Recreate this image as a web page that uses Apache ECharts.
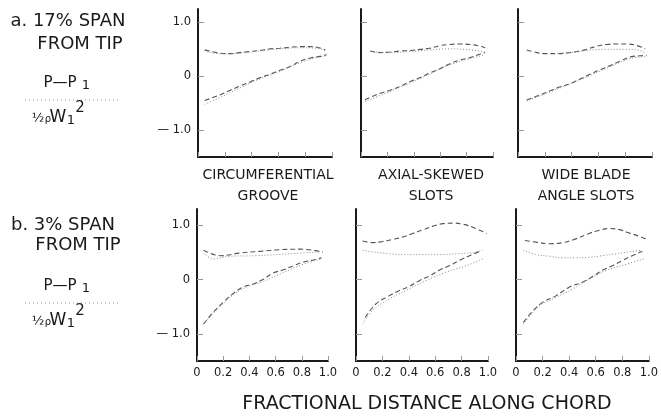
<!DOCTYPE html>
<html>
<head>
<meta charset="utf-8">
<script src="https://cdn.jsdelivr.net/npm/echarts@6.0.0/dist/echarts.min.js"></script>
<style>html,body{margin:0;padding:0;background:#fff;}#c{width:661px;height:416px;}</style>
</head>
<body>
<div id="c"></div>
<script>
// ---- data ----
const xTickValues = [0, 0.2, 0.4, 0.6, 0.8, 1.0];
const xTickLabels = ['0', '0.2', '0.4', '0.6', '0.8', '1.0'];
const yTickValues = [-1, 0, 1];
const yTickLabels = ['\u2014 1.0', '0', '1.0'];
const panelTitles = ['CIRCUMFERENTIAL\nGROOVE', 'AXIAL-SKEWED\nSLOTS', 'WIDE BLADE\nANGLE SLOTS'];
const rowTitlesA = ['a. 17% SPAN', 'FROM TIP'];
const rowTitlesB = ['b. 3% SPAN', 'FROM TIP'];
const xAxisTitle = 'FRACTIONAL DISTANCE ALONG CHORD';

// a. 17% span
const aCircUpperA = [[0.05,0.49],[0.16,0.43],[0.24,0.42],[0.31,0.44],[0.39,0.46],[0.46,0.48],[0.54,0.51],[0.61,0.52],[0.69,0.54],[0.76,0.55],[0.84,0.55],[0.89,0.54],[0.95,0.49]];
const aCircUpperB = [[0.05,0.47],[0.16,0.42],[0.31,0.43],[0.46,0.47],[0.61,0.51],[0.76,0.53],[0.89,0.52],[0.95,0.48]];
const aCircLowerA = [[0.05,-0.45],[0.16,-0.35],[0.24,-0.26],[0.31,-0.185],[0.39,-0.105],[0.46,-0.03],[0.54,0.04],[0.61,0.11],[0.69,0.185],[0.76,0.28],[0.84,0.34],[0.91,0.37],[0.96,0.40]];
const aCircLowerB = [[0.05,-0.52],[0.16,-0.40],[0.31,-0.22],[0.46,-0.05],[0.61,0.09],[0.76,0.25],[0.91,0.36],[0.96,0.38]];

const aAxialUpperA = [[0.07,0.47],[0.14,0.44],[0.22,0.45],[0.30,0.47],[0.37,0.48],[0.45,0.50],[0.52,0.52],[0.60,0.57],[0.67,0.59],[0.75,0.60],[0.83,0.59],[0.90,0.56],[0.94,0.53]];
const aAxialUpperB = [[0.07,0.46],[0.22,0.44],[0.37,0.46],[0.52,0.49],[0.67,0.51],[0.83,0.49],[0.94,0.45]];
const aAxialLowerA = [[0.03,-0.44],[0.14,-0.32],[0.22,-0.26],[0.30,-0.185],[0.37,-0.10],[0.45,-0.025],[0.52,0.06],[0.60,0.14],[0.67,0.23],[0.75,0.30],[0.83,0.35],[0.90,0.41],[0.94,0.44]];
const aAxialLowerB = [[0.03,-0.47],[0.22,-0.28],[0.45,-0.04],[0.67,0.21],[0.83,0.33],[0.94,0.40]];

const aWideUpperA = [[0.065,0.49],[0.14,0.44],[0.21,0.42],[0.29,0.42],[0.36,0.43],[0.44,0.46],[0.51,0.50],[0.59,0.56],[0.66,0.59],[0.74,0.60],[0.81,0.60],[0.89,0.57],[0.95,0.51]];
const aWideUpperB = [[0.29,0.43],[0.44,0.45],[0.51,0.48],[0.66,0.50],[0.81,0.50],[0.89,0.49],[0.95,0.44]];
const aWideLowerA = [[0.065,-0.44],[0.16,-0.35],[0.24,-0.27],[0.31,-0.20],[0.39,-0.135],[0.46,-0.055],[0.54,0.04],[0.61,0.12],[0.69,0.20],[0.76,0.28],[0.84,0.36],[0.91,0.38],[0.96,0.39]];
const aWideLowerB = [[0.065,-0.46],[0.24,-0.29],[0.46,-0.07],[0.69,0.18],[0.84,0.33],[0.96,0.37]];

// b. 3% span
const bCircUpperA = [[0.05,0.54],[0.18,0.44],[0.33,0.49],[0.48,0.52],[0.63,0.55],[0.79,0.56],[0.96,0.51]];
const bCircUpperB = [[0.05,0.49],[0.125,0.38],[0.25,0.43],[0.45,0.44],[0.71,0.475],[0.94,0.51]];
const bCircLowerA = [[0.05,-0.82],[0.125,-0.60],[0.20,-0.42],[0.28,-0.25],[0.35,-0.14],[0.43,-0.08],[0.51,0.01],[0.58,0.12],[0.66,0.18],[0.74,0.26],[0.81,0.32],[0.89,0.36],[0.95,0.40]];
const bCircLowerB = [[0.05,-0.82],[0.20,-0.44],[0.35,-0.17],[0.51,-0.03],[0.66,0.13],[0.81,0.28],[0.95,0.38]];

const bAxialUpperA = [[0.05,0.71],[0.125,0.68],[0.20,0.70],[0.28,0.74],[0.35,0.78],[0.43,0.85],[0.51,0.92],[0.58,0.98],[0.66,1.03],[0.74,1.04],[0.81,1.02],[0.89,0.96],[0.99,0.85]];
const bAxialUpperB = [[0.05,0.54],[0.125,0.51],[0.25,0.475],[0.38,0.46],[0.51,0.46],[0.636,0.46],[0.76,0.475],[0.89,0.50],[0.96,0.54]];
const bAxialLowerA = [[0.07,-0.70],[0.15,-0.45],[0.25,-0.30],[0.33,-0.20],[0.40,-0.13],[0.48,-0.02],[0.56,0.07],[0.63,0.17],[0.71,0.26],[0.79,0.36],[0.86,0.44],[0.93,0.51]];
const bAxialLowerB = [[0.05,-0.82],[0.125,-0.57],[0.25,-0.36],[0.38,-0.20],[0.53,-0.02],[0.68,0.135],[0.84,0.26],[0.96,0.38]];

const bWideUpperA = [[0.067,0.72],[0.15,0.69],[0.25,0.66],[0.35,0.68],[0.45,0.75],[0.55,0.85],[0.627,0.91],[0.70,0.94],[0.78,0.92],[0.85,0.86],[0.925,0.80],[0.987,0.74]];
const bWideUpperB = [[0.055,0.54],[0.15,0.46],[0.25,0.43],[0.35,0.40],[0.45,0.40],[0.55,0.41],[0.65,0.44],[0.75,0.475],[0.85,0.51],[0.95,0.54]];
const bWideLowerA = [[0.055,-0.79],[0.13,-0.57],[0.20,-0.42],[0.30,-0.30],[0.40,-0.14],[0.50,-0.05],[0.577,0.055],[0.65,0.17],[0.73,0.26],[0.80,0.35],[0.875,0.44],[0.95,0.52]];
const bWideLowerB = [[0.055,-0.82],[0.18,-0.48],[0.30,-0.33],[0.43,-0.17],[0.55,0.01],[0.68,0.17],[0.80,0.26],[0.96,0.38]];

// ---- layout ----
const panels = [
  {left:198, top:9,   width:134, height:148, ymax:1.25, row:0, col:0, curves:[aCircUpperA,aCircUpperB,aCircLowerA,aCircLowerB]},
  {left:361, top:9,   width:132, height:148, ymax:1.25, row:0, col:1, curves:[aAxialUpperA,aAxialUpperB,aAxialLowerA,aAxialLowerB]},
  {left:518, top:9,   width:134, height:148, ymax:1.25, row:0, col:2, curves:[aWideUpperA,aWideUpperB,aWideLowerA,aWideLowerB]},
  {left:197, top:209, width:131, height:152, ymax:1.3,  row:1, col:0, curves:[bCircUpperA,bCircUpperB,bCircLowerA,bCircLowerB]},
  {left:356, top:209, width:132, height:152, ymax:1.3,  row:1, col:1, curves:[bAxialUpperA,bAxialUpperB,bAxialLowerA,bAxialLowerB]},
  {left:516, top:209, width:134, height:152, ymax:1.3,  row:1, col:2, curves:[bWideUpperA,bWideUpperB,bWideLowerA,bWideLowerB]}
];
const FONT = '"DejaVu Sans", sans-serif';
const INK = '#1a1a1a';
const curveStyles = [
  {type:[5,3], color:'#555', width:1.1},
  {type:[1,2], color:'#8a8a8a', width:1},
  {type:[5,3], color:'#555', width:1.1},
  {type:[1,2], color:'#8a8a8a', width:1}
];

const grid = [], xAxis = [], yAxis = [], series = [];
panels.forEach((p, i) => {
  grid.push({left:p.left, top:p.top, width:p.width, height:p.height, containLabel:false});
  xAxis.push({
    type:'value', gridIndex:i, min:0, max:1, interval:0.2,
    axisLine:{show:true, onZero:false, lineStyle:{color:INK, width:2}},
    axisTick:{show:true, inside:true, length:5, lineStyle:{color:'#999', width:1}},
    axisLabel:{show:p.row===1, color:INK, fontSize:11.5, fontFamily:FONT, margin:6,
      formatter:v => { const k = xTickValues.findIndex(t => Math.abs(t-v)<1e-6); return k>=0 ? xTickLabels[k] : ''; }},
    splitLine:{show:false}
  });
  yAxis.push({
    type:'value', gridIndex:i, min:-1.5, max:p.ymax,
    axisLine:{show:true, onZero:false, lineStyle:{color:INK, width:2}},
    axisTick:{show:true, inside:true, length:6, customValues:yTickValues, lineStyle:{color:'#999', width:1}},
    axisLabel:{show:p.col===0, color:INK, fontSize:11.5, fontFamily:FONT, margin:7, customValues:yTickValues,
      formatter:v => { const k = yTickValues.findIndex(t => Math.abs(t-v)<1e-6); return k>=0 ? yTickLabels[k] : ''; }},
    splitLine:{show:false}
  });
  p.curves.forEach((d, j) => {
    series.push({
      type:'line', xAxisIndex:i, yAxisIndex:i, data:d, smooth:0.4, showSymbol:false, silent:true,
      lineStyle:{type:curveStyles[j].type, color:curveStyles[j].color, width:curveStyles[j].width}
    });
  });
});

function txt(text, x, y, size, opts) {
  opts = opts || {};
  return {type:'text', x:x, y:y, silent:true, style:{text:text, fill:INK, font:(opts.weight||'normal')+' '+size+'px '+FONT,
    align:opts.align||'center', verticalAlign:'middle', lineHeight:opts.lineHeight}};
}
function fraction(cy) {
  // cy: y of the dotted line
  return [
    txt('P\u2014P', 60, cy-17, 15),
    txt('1', 86, cy-14, 13),
    {type:'line', silent:true, shape:{x1:25, y1:cy, x2:119, y2:cy}, style:{stroke:'#999', lineWidth:1, lineDash:[1,3]}},
    txt('\u00bd', 38, cy+19, 13),
    txt('\u03c1', 48, cy+19, 10),
    txt('W', 58, cy+18, 17),
    txt('1', 71, cy+21, 13),
    txt('2', 80, cy+8, 15)
  ];
}

const graphic = [
  txt(rowTitlesA[0], 68, 21, 18),
  txt(rowTitlesA[1], 80, 44, 18),
  txt(rowTitlesB[0], 63, 225, 18),
  txt(rowTitlesB[1], 78, 245, 18),
  ...fraction(100),
  ...fraction(303),
  txt(xAxisTitle, 427, 404, 19),
  txt(panelTitles[0], 268, 186, 14, {lineHeight:21}),
  txt(panelTitles[1], 431, 186, 14, {lineHeight:21}),
  txt(panelTitles[2], 586, 186, 14, {lineHeight:21})
];

const chart = echarts.init(document.getElementById('c'), null, {renderer:'canvas'});
chart.setOption({animation:false, backgroundColor:'#fff', grid, xAxis, yAxis, series, graphic});
</script>
</body>
</html>
